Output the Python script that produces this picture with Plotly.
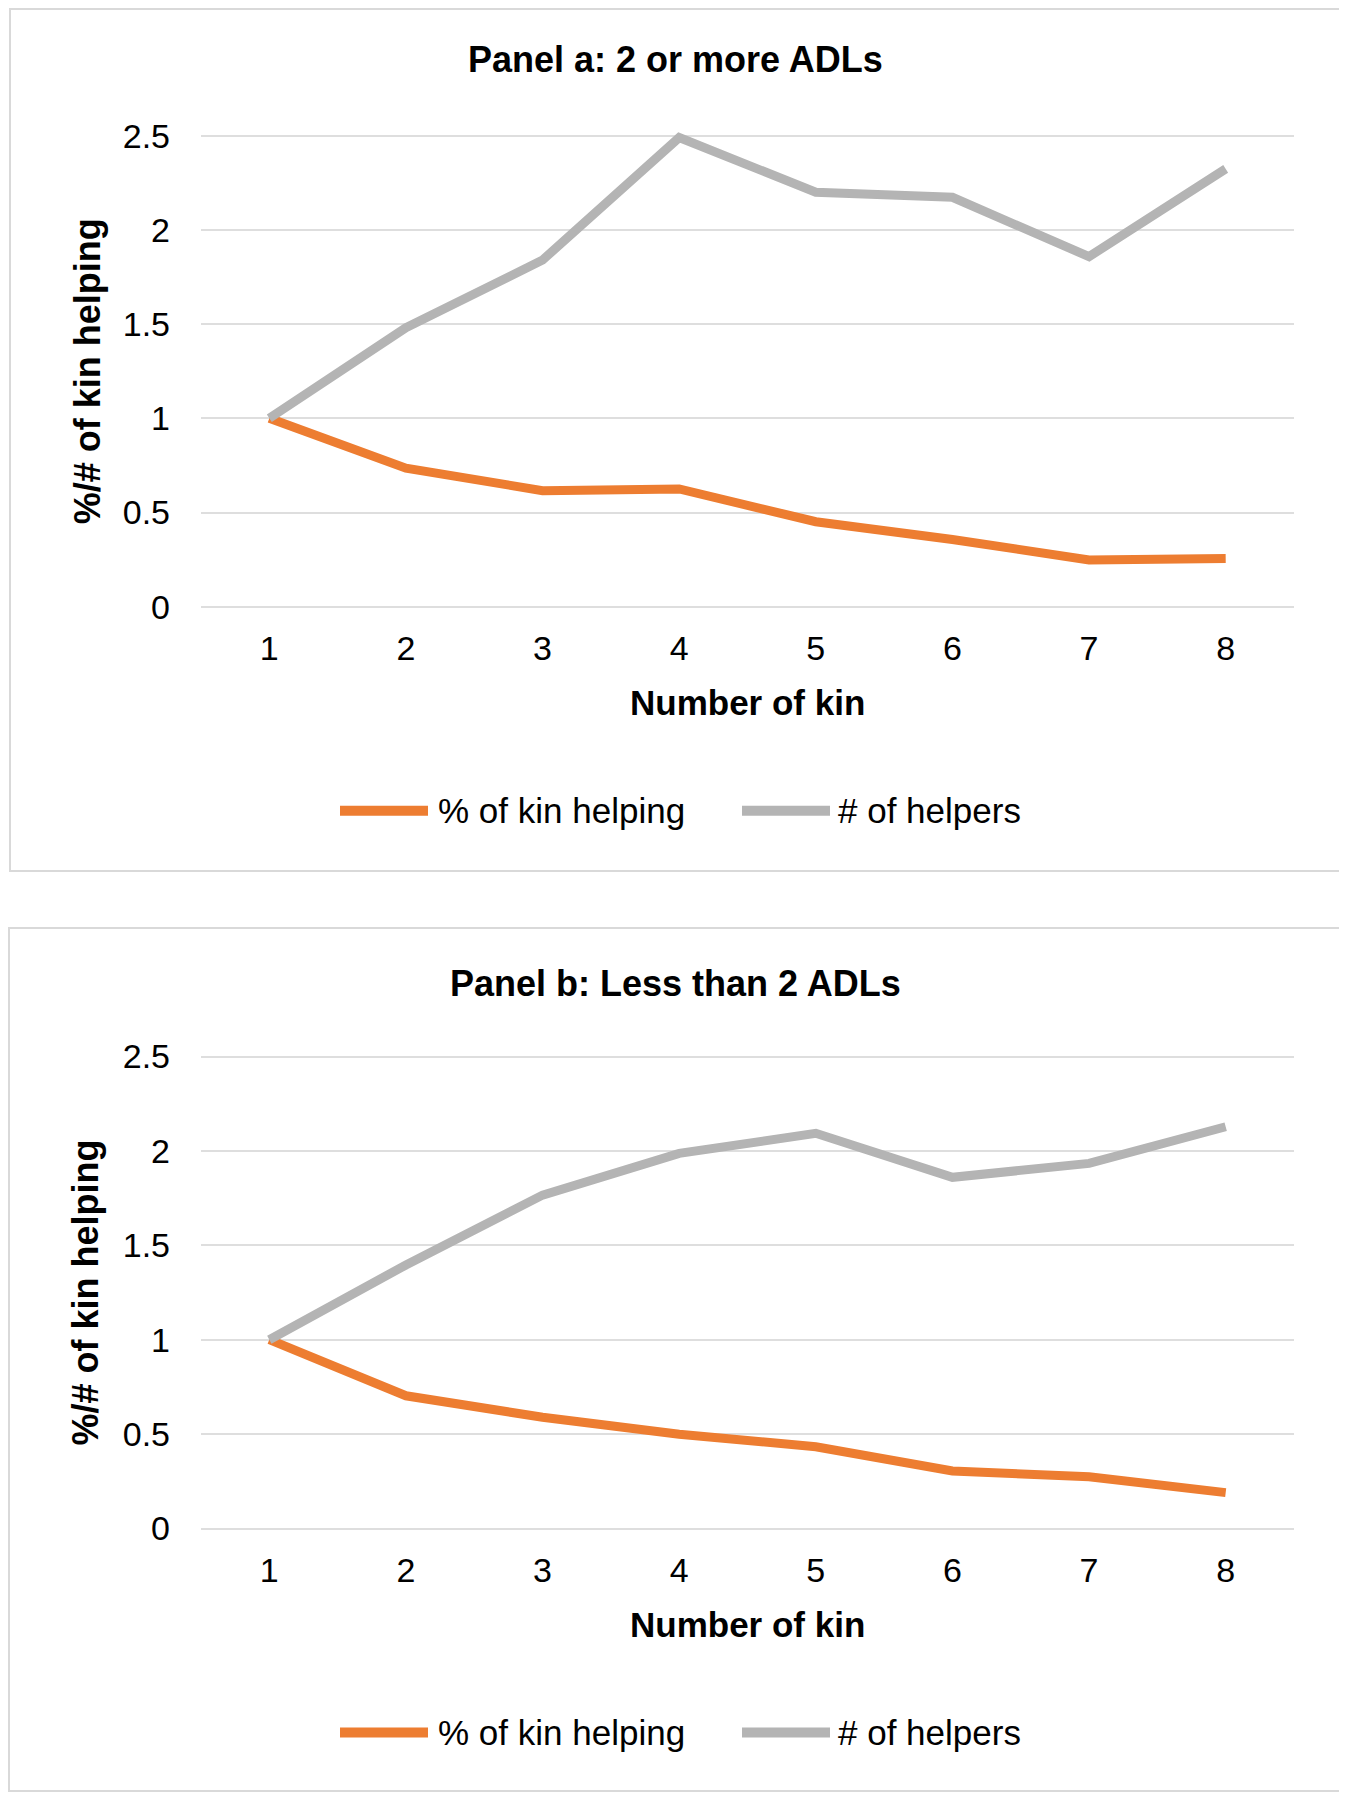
import plotly.graph_objects as go

# Number of kin (x axis categories)
kin = [1, 2, 3, 4, 5, 6, 7, 8]

# Panel a: 2 or more ADLs
a_pct_helping = [1.0, 0.735, 0.616, 0.625, 0.451, 0.357, 0.248, 0.256]
a_num_helpers = [1.0, 1.481, 1.840, 2.49, 2.20, 2.173, 1.858, 2.324]

# Panel b: Less than 2 ADLs
b_pct_helping = [1.0, 0.703, 0.589, 0.499, 0.433, 0.305, 0.274, 0.19]
b_num_helpers = [1.0, 1.396, 1.766, 1.987, 2.093, 1.860, 1.934, 2.128]

panel_titles = ["Panel a: 2 or more ADLs", "Panel b: Less than 2 ADLs"]
series_names = ["% of kin helping", "# of helpers"]
y_ticks = [0, 0.5, 1, 1.5, 2, 2.5]
y_ticktext = ["0", "0.5", "1", "1.5", "2", "2.5"]

# the page body has an 8px margin on every side, so the figure is made
# smaller to keep the page at 1347x1800; positions below are page pixels
OFF = 8
W, H = 1347 - OFF, 1800 - 2 * OFF
ORANGE = "#ED7D31"
GREY = "#B4B4B4"
GRID = "#DEDEDE"
FONT = "Liberation Sans"


def px(x):
    return (x - OFF) / W


def py(y):
    return 1 - (y - OFF) / H


fig = go.Figure()

# page-pixel layout of each panel: border box, y of value 0 and pixels per unit
panels = [
    dict(box=(10, 9, 1341, 871), zero=606.7, unit=188.4,
         pct=a_pct_helping, helpers=a_num_helpers, title_y=60, ytitle_x=87),
    dict(box=(9, 928, 1341, 1791), zero=1528.5, unit=188.8,
         pct=b_pct_helping, helpers=b_num_helpers, title_y=983, ytitle_x=85),
]

y_lo, y_hi = -0.05, 2.6
x_left, x_right = 201, 1294

shapes = []
annotations = []

for i, p in enumerate(panels):
    n = "" if i == 0 else str(i + 1)
    xa, ya = "x" + n, "y" + n

    fig.add_trace(go.Scatter(x=kin, y=p["pct"], mode="lines", name=series_names[0],
                             line=dict(color=ORANGE, width=9), xaxis=xa, yaxis=ya,
                             showlegend=False))
    fig.add_trace(go.Scatter(x=kin, y=p["helpers"], mode="lines", name=series_names[1],
                             line=dict(color=GREY, width=9), xaxis=xa, yaxis=ya,
                             showlegend=False))

    bottom = p["zero"] - y_lo * p["unit"]
    top = p["zero"] - y_hi * p["unit"]

    fig.update_layout(**{
        "xaxis" + n: dict(domain=[px(x_left), px(x_right)], range=[0.5, 8.5],
                          tickvals=kin, showgrid=False, zeroline=False, showline=False,
                          ticks="", ticklabelstandoff=9, anchor=ya, automargin=False,
                          tickfont=dict(family=FONT, size=34, color="#000")),
        "yaxis" + n: dict(domain=[py(bottom), py(top)], range=[y_lo, y_hi],
                          tickvals=y_ticks, ticktext=y_ticktext,
                          showgrid=True, gridcolor=GRID, gridwidth=2, zeroline=False,
                          showline=False, ticks="", ticklabelstandoff=30, anchor=xa,
                          automargin=False,
                          tickfont=dict(family=FONT, size=34, color="#000")),
    })

    x0, y0, x1, y1 = p["box"]
    shapes.append(dict(type="rect", xref="paper", yref="paper", x0=px(x0), x1=px(x1),
                       y0=py(y1), y1=py(y0), line=dict(color="#D9D9D9", width=2)))

    annotations.append(dict(text="<b>" + panel_titles[i] + "</b>", xref="paper", yref="paper",
                            x=px(675), y=py(p["title_y"]), showarrow=False,
                            xanchor="center", yanchor="middle",
                            font=dict(family=FONT, size=36, color="#000")))
    annotations.append(dict(text="<b>%/# of kin helping</b>", xref="paper", yref="paper",
                            x=px(p["ytitle_x"]), y=py(p["zero"] - 1.25 * p["unit"]),
                            textangle=-90, showarrow=False, xanchor="center", yanchor="middle",
                            font=dict(family=FONT, size=36, color="#000")))
    annotations.append(dict(text="<b>Number of kin</b>", xref="paper", yref="paper",
                            x=px(747), y=py(p["zero"] + 96), showarrow=False,
                            xanchor="center", yanchor="middle",
                            font=dict(family=FONT, size=35, color="#000")))

    # legend drawn by hand so the swatches match the long thick lines
    ly = p["zero"] + 204
    for (lx0, lx1, tx), name, col in zip([(340, 428, 436), (742, 830, 836)],
                                         series_names, [ORANGE, GREY]):
        shapes.append(dict(type="line", xref="paper", yref="paper", x0=px(lx0), x1=px(lx1),
                           y0=py(ly), y1=py(ly), line=dict(color=col, width=10)))
        annotations.append(dict(text=name, xref="paper", yref="paper", x=px(tx), y=py(ly),
                                showarrow=False, xanchor="left", yanchor="middle",
                                font=dict(family=FONT, size=35, color="#000")))

fig.update_layout(
    width=W, height=H,
    margin=dict(l=0, r=0, t=0, b=0, autoexpand=False),
    paper_bgcolor="white", plot_bgcolor="white",
    shapes=shapes, annotations=annotations,
    showlegend=False,
)

fig.write_html("out.html")
